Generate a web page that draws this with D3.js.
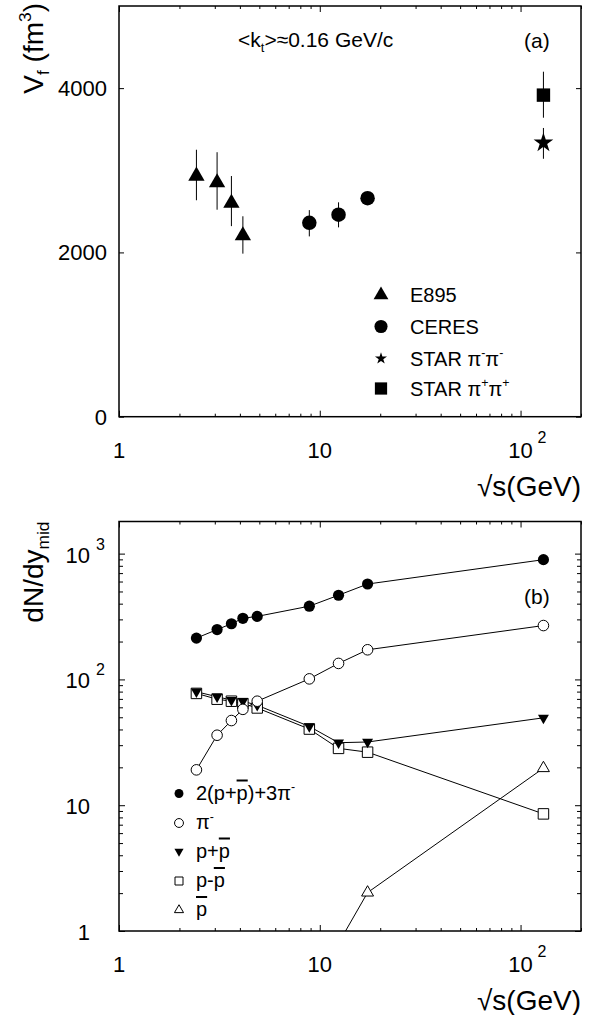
<!DOCTYPE html>
<html>
<head>
<meta charset="utf-8">
<script src="https://cdn.jsdelivr.net/npm/d3@7"></script>
<style>
  body { margin: 0; background: #fff; }
  svg { display: block; font-family: "Liberation Sans", Arial, Helvetica, sans-serif; }
</style>
</head>
<body>
<svg id="chart" width="595" height="1015"></svg>
<script>
// ---------- panel (a): freeze-out volume vs sqrt(s) ----------
const sqrtsE895 = [2.43, 3.08, 3.63, 4.14];
const vfE895 = [2930, 2850, 2600, 2205];
const vfE895Lo = [2635, 2520, 2320, 1985];
const vfE895Hi = [3250, 3220, 2930, 2440];

const sqrtsCERES = [8.87, 12.4, 17.3];
const vfCERES = [2360, 2460, 2660];
const vfCERESLo = [2195, 2305, 2615];
const vfCERESHi = [2515, 2610, 2705];

const sqrtsSTAR = [130];
const vfSTARminus = [3335];
const vfSTARminusLo = [3140];
const vfSTARminusHi = [3515];
const vfSTARplus = [3915];
const vfSTARplusLo = [3640];
const vfSTARplusHi = [4200];

const vfTicks = [0, 2000, 4000];

// ---------- panel (b): midrapidity yields ----------
const sqrtsAll = [2.43, 3.08, 3.63, 4.14, 4.88, 8.87, 12.4, 17.3, 130];
const totalYield = [213, 249, 277, 306, 317, 382, 467, 573, 895];
const piMinus = [19.1, 36.0, 47.1, 57.8, 67.1, 101, 134, 172, 268];
const pPlusPbar = [79.8, 72.8, 68.5, 67.1, 62.3, 42.3, 31.4, 31.8, 49.5];
const pMinusPbar = [77.4, 69.6, 67.1, 64.2, 59.3, 40.3, 28.3, 26.4, 8.53];
const sqrtsPbar = [12.4, 17.3, 130];
const pbarYield = [0.8, 2.02, 19.7];

const xMajor = [1, 10, 100];
const xTickMain = ["1", "10", "10"];
const xTickSup = ["", "", "2"];
const yieldMajor = [1, 10, 100, 1000];
const yieldTickMain = ["1", "10", "10", "10"];
const yieldTickSup = ["", "", "2", "3"];

// legend entries, text split in [text, kind] pieces
const legendA = [
  { sym: "triUp", parts: [["E895", ""]] },
  { sym: "circle", parts: [["CERES", ""]] },
  { sym: "star", parts: [["STAR π", ""], ["-", "sup"], ["π", ""], ["-", "sup"]] },
  { sym: "square", parts: [["STAR π", ""], ["+", "sup"], ["π", ""], ["+", "sup"]] }
];
const legendB = [
  { sym: "circle", open: false, parts: [["2(p+", ""], ["p", "bar"], [")+3π", ""], ["-", "sup"]] },
  { sym: "circle", open: true, parts: [["π", ""], ["-", "sup"]] },
  { sym: "triDown", open: false, parts: [["p+", ""], ["p", "bar"]] },
  { sym: "square", open: true, parts: [["p-", ""], ["p", "bar"]] },
  { sym: "triUp", open: true, parts: [["p", "bar"]] }
];

// ---------- layout ----------
const left = 119, right = 581;
const aTop = 6, aBottom = 416.7;
const bTop = 521.5, bBottom = 931;

const xA = d3.scaleLog().domain([1, 200]).range([left, right]);
const yA = d3.scaleLinear().domain([0, 5000]).range([aBottom, aTop]);
const xB = d3.scaleLog().domain([1, 200]).range([left, right]);
const yB = d3.scaleLog().domain([1, 1800]).range([bBottom, bTop]);

const svg = d3.select("#chart");
svg.append("rect").attr("width", 595).attr("height", 1015).attr("fill", "#fff");

const symTypes = {
  circle: d3.symbolCircle, square: d3.symbolSquare, star: d3.symbolStar,
  triUp: d3.symbolTriangle, triDown: d3.symbolTriangle
};
const symPath = (name, size) => d3.symbol().type(symTypes[name]).size(size)();

// text with sub/superscripts and overlined letters
function richText(sel, parts, size) {
  let shift = 0;
  parts.forEach(([t, kind]) => {
    const target = kind === "sub" ? size * 0.22 : kind === "sup" ? -size * 0.42 : 0;
    const ts = sel.append("tspan")
      .attr("dy", target - shift)
      .attr("font-size", kind === "sub" || kind === "sup" ? size * 0.62 : size)
      .text(t);
    if (kind === "bar") ts.style("text-decoration", "overline");
    shift = target;
  });
  return sel;
}

function addTicks(g, axis, transform) {
  g.append("g").attr("transform", transform)
    .call(axis.tickFormat(""))
    .call(s => s.select(".domain").remove())
    .selectAll("line").attr("stroke", "#000").attr("stroke-width", 1);
}

function drawFrame(g, x, y, top, bottom, yMajor, yMinor, yLen) {
  const xMinor = x.ticks().filter(v => !xMajor.includes(v));
  addTicks(g, d3.axisBottom(x).tickValues(xMajor).tickSize(-6), `translate(0,${bottom})`);
  addTicks(g, d3.axisBottom(x).tickValues(xMinor).tickSize(-3), `translate(0,${bottom})`);
  addTicks(g, d3.axisTop(x).tickValues(xMajor).tickSize(-6), `translate(0,${top})`);
  addTicks(g, d3.axisTop(x).tickValues(xMinor).tickSize(-3), `translate(0,${top})`);
  addTicks(g, d3.axisLeft(y).tickValues(yMajor).tickSize(-yLen), `translate(${left},0)`);
  addTicks(g, d3.axisRight(y).tickValues(yMajor).tickSize(-yLen), `translate(${right},0)`);
  if (yMinor.length) {
    addTicks(g, d3.axisLeft(y).tickValues(yMinor).tickSize(-4), `translate(${left},0)`);
    addTicks(g, d3.axisRight(y).tickValues(yMinor).tickSize(-4), `translate(${right},0)`);
  }
  g.append("rect")
    .attr("x", left).attr("y", top)
    .attr("width", right - left).attr("height", bottom - top)
    .attr("fill", "none").attr("stroke", "#000").attr("stroke-width", 1.5);

  // x tick labels
  xMajor.forEach((v, i) => {
    g.append("text").attr("x", x(v)).attr("y", bottom + 41)
      .attr("text-anchor", "middle").attr("font-size", 22).text(xTickMain[i]);
    if (xTickSup[i]) g.append("text").attr("x", x(v) + 17).attr("y", bottom + 26)
      .attr("font-size", 16).text(xTickSup[i]);
  });
  // x title
  g.append("text").attr("x", right).attr("y", bottom + 79)
    .attr("text-anchor", "end").attr("font-size", 28).text("√s(GeV)");
}

// ================= panel (a) =================
const gA = svg.append("g");
drawFrame(gA, xA, yA, aTop, aBottom, vfTicks, [], 5);

gA.selectAll(".ylab").data(vfTicks).enter().append("text")
  .attr("x", 107).attr("y", d => yA(d) + 8)
  .attr("text-anchor", "end").attr("font-size", 22).text(d => d);

richText(gA.append("text").attr("transform", `translate(43,3) rotate(-90)`)
  .attr("text-anchor", "end"), [["V", ""], ["f", "sub"], [" (fm", ""], ["3", "sup"], [")", ""]], 28);

richText(gA.append("text").attr("x", 238).attr("y", 47),
  [["<k", ""], ["t", "sub"], [">≈0.16 GeV/c", ""]], 21);
gA.append("text").attr("x", 524).attr("y", 48).attr("font-size", 21).text("(a)");

// error bars + markers
const seriesA = [
  { sym: "triUp", size: 115, xs: sqrtsE895, v: vfE895, lo: vfE895Lo, hi: vfE895Hi },
  { sym: "circle", size: 165, xs: sqrtsCERES, v: vfCERES, lo: vfCERESLo, hi: vfCERESHi },
  { sym: "star", size: 120, xs: sqrtsSTAR, v: vfSTARminus, lo: vfSTARminusLo, hi: vfSTARminusHi },
  { sym: "square", size: 180, xs: sqrtsSTAR, v: vfSTARplus, lo: vfSTARplusLo, hi: vfSTARplusHi }
];
seriesA.forEach(s => {
  const pts = s.xs.map((xv, i) => ({ x: xv, v: s.v[i], lo: s.lo[i], hi: s.hi[i] }));
  gA.selectAll(null).data(pts).enter().append("line")
    .attr("x1", d => xA(d.x)).attr("x2", d => xA(d.x))
    .attr("y1", d => yA(d.lo)).attr("y2", d => yA(d.hi))
    .attr("stroke", "#000").attr("stroke-width", 1);
  gA.selectAll(null).data(pts).enter().append("path")
    .attr("d", symPath(s.sym, s.size))
    .attr("transform", d => `translate(${xA(d.x)},${yA(d.v)})`)
    .attr("fill", "#000");
});

// legend (a)
const legA = [295, 326.5, 358.5, 388.5];
const legASize = { triUp: 95, circle: 135, star: 45, square: 150 };
legendA.forEach((e, i) => {
  gA.append("path").attr("d", symPath(e.sym, legASize[e.sym]))
    .attr("transform", `translate(381,${legA[i]})`).attr("fill", "#000");
  richText(gA.append("text").attr("x", 410).attr("y", legA[i] + 7), e.parts, 20);
});

// ================= panel (b) =================
const gB = svg.append("g");
const yieldMinor = yB.ticks().filter(v => !yieldMajor.includes(v));
drawFrame(gB, xB, yB, bTop, bBottom, yieldMajor, yieldMinor, 6);

yieldMajor.forEach((v, i) => {
  gB.append("text").attr("x", 90).attr("y", yB(v) + 9)
    .attr("text-anchor", "end").attr("font-size", 22).text(yieldTickMain[i]);
  if (yieldTickSup[i]) gB.append("text").attr("x", 96).attr("y", yB(v) - 4)
    .attr("font-size", 16).text(yieldTickSup[i]);
});

richText(gB.append("text").attr("transform", `translate(43,${bTop}) rotate(-90)`)
  .attr("text-anchor", "end"), [["dN/dy", ""], ["mid", "sub"]], 28);
gB.append("text").attr("x", 524).attr("y", 604).attr("font-size", 21).text("(b)");

svg.append("clipPath").attr("id", "clipB").append("rect")
  .attr("x", left).attr("y", bTop).attr("width", right - left).attr("height", bBottom - bTop);
const plotB = gB.append("g").attr("clip-path", "url(#clipB)");

const line = d3.line().x(d => xB(d[0])).y(d => yB(d[1]));
const seriesB = [
  { sym: "square", open: true, size: 110, data: d3.zip(sqrtsAll, pMinusPbar) },
  { sym: "triDown", open: false, size: 52, data: d3.zip(sqrtsAll, pPlusPbar) },
  { sym: "triUp", open: true, size: 62, data: d3.zip(sqrtsPbar, pbarYield) },
  { sym: "circle", open: true, size: 88, data: d3.zip(sqrtsAll, piMinus) },
  { sym: "circle", open: false, size: 98, data: d3.zip(sqrtsAll, totalYield) }
];
seriesB.forEach(s => {
  plotB.append("path").attr("d", line(s.data))
    .attr("fill", "none").attr("stroke", "#000").attr("stroke-width", 1);
});
seriesB.forEach(s => {
  plotB.selectAll(null).data(s.data).enter().append("path")
    .attr("d", symPath(s.sym, s.size))
    .attr("transform", d => `translate(${xB(d[0])},${yB(d[1])})` + (s.sym === "triDown" ? " rotate(180)" : ""))
    .attr("fill", s.open ? "#fff" : "#000")
    .attr("stroke", "#000").attr("stroke-width", s.open ? 1 : 0);
});

// legend (b)
const legB = [793.5, 823, 851.5, 881, 910];
const legBSize = { circle: 62, triDown: 36, square: 64, triUp: 36 };
legendB.forEach((e, i) => {
  gB.append("path").attr("d", symPath(e.sym, legBSize[e.sym]))
    .attr("transform", `translate(179,${legB[i]})` + (e.sym === "triDown" ? " rotate(180)" : ""))
    .attr("fill", e.open ? "#fff" : "#000")
    .attr("stroke", "#000").attr("stroke-width", e.open ? 1 : 0);
  richText(gB.append("text").attr("x", 196).attr("y", legB[i] + 6), e.parts, 20);
});
</script>
</body>
</html>
